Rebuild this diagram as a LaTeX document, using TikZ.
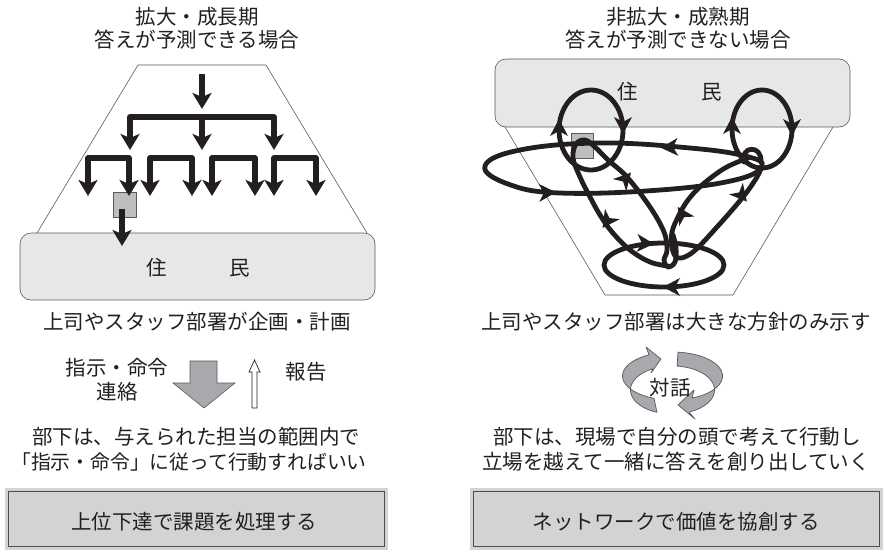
\documentclass[tikz,border=0pt]{standalone}
\usepackage{fontspec}
\newfontfamily\jpfont{Noto Sans CJK JP}
\usetikzlibrary{arrows.meta}
\definecolor{ink}{HTML}{231F20}
\definecolor{palegray}{HTML}{E6E7E8}
\definecolor{boxgray}{HTML}{D1D3D4}
\definecolor{sqgray}{HTML}{BCBEC0}
\definecolor{arrgray}{HTML}{A7A9AC}
\definecolor{edgegray}{HTML}{58595B}
\newcommand\loophead[3]{\fill[ink, shift={(#1,#2)}, rotate=#3] (6,0) -- (-11,-9) -- (-6,0) -- (-11,9) -- cycle;}
\begin{document}
\begin{tikzpicture}[x=1pt,y=-1pt,
  txt/.style={font=\jpfont\fontsize{20.5}{24}\selectfont, inner sep=0pt, text=ink},
  frame/.style={draw=edgegray, line width=0.6pt},
  flow/.style={draw=ink, line width=5.2pt, line join=round, -{Stealth[length=16pt,width=19pt,inset=4pt]}},
  twoway/.style={draw=ink, line width=5.2pt, line join=round, {Stealth[length=16pt,width=19pt,inset=4pt]}-{Stealth[length=16pt,width=19pt,inset=4pt]}},
  loopline/.style={draw=ink, line width=4.8pt, line cap=round, line join=round},
  ribbon/.style={fill=arrgray, draw=edgegray, line width=0.7pt, line join=round},
  resbox/.style={draw=edgegray, fill=palegray, line width=0.6pt, rounded corners=11pt, inner sep=0pt},
  sqbox/.style={draw=edgegray, fill=sqgray, line width=0.6pt, inner sep=0pt},
  resultbox/.style={draw=ink!80, double=boxgray, double distance=2.6pt, line width=0.7pt, fill=boxgray, inner sep=0pt}]
\useasboundingbox (0,0) rectangle (885,552);

% ---------------- left panel ----------------
\node[txt] (titleL1) at (197,17) {拡大・成長期};
\node[txt] (titleL2) at (197,40) {答えが予測できる場合};

\draw[frame] (37,233) -- (138,65) -- (266,65) -- (367,233);
\node[resbox, minimum width=355pt, minimum height=67pt] (resL) at (197.5,266.5) {};
\node[txt] (resLtxt) at (198.5,268) {住\hspace{62.5pt}民};

\node[sqbox, minimum width=23pt, minimum height=25pt] (sqL) at (124.5,204.5) {};

\draw[flow] (202,74) -- (202,109);
\draw[twoway] (130,150) -- (130,117) -- (274,117) -- (274,150);
\draw[flow] (202,117) -- (202,150);
\draw[twoway] (88,196) -- (88,158) -- (129,158) -- (129,196);
\draw[twoway] (150,196) -- (150,158) -- (192,158) -- (192,196);
\draw[twoway] (212,196) -- (212,158) -- (255,158) -- (255,196);
\draw[twoway] (274,196) -- (274,158) -- (316,158) -- (316,196);
\draw[flow] (122,209) -- (122,246);

\node[txt] (planL) at (197,322) {上司やスタッフ部署が企画・計画};
\node[txt] (orderA) at (117,368) {指示・命令};
\node[txt] (orderB) at (117,392) {連絡};
\node[txt] (report) at (306,372) {報告};
\path[fill=arrgray, draw=edgegray, line width=0.6pt] (190,361) -- (217,361) -- (217,383) -- (235,383) -- (204,408) -- (173,383) -- (190,383) -- cycle;
\path[fill=white, draw=ink, line width=0.7pt] (252,408) -- (252,372) -- (249,372) -- (254.5,360) -- (260,372) -- (257,372) -- (257,408) -- cycle;
\node[txt] (subL1) at (196,437) {部下は、与えられた担当の範囲内で};
\node[txt, font=\jpfont\fontsize{19.8}{24}\selectfont] (subL2) at (189,462) {「指示・命令」に従って行動すればいい};

\node[resultbox, minimum width=379.6pt, minimum height=58.6pt] (resultL) at (196.5,519) {};
\node[txt] (resultLtxt) at (194,522) {上位下達で課題を処理する};

% ---------------- right panel ----------------
\node[txt] (titleR1) at (678,17) {非拡大・成熟期};
\node[txt] (titleR2) at (678,40) {答えが予測できない場合};

\draw[frame] (505,127) -- (605,295) -- (733,295) -- (833,127);
\node[resbox, minimum width=355pt, minimum height=68pt] (resR) at (672.5,93) {};
\node[txt] (resRtxt) at (670,92) {住\hspace{63.5pt}民};

\node[sqbox, minimum width=22pt, minimum height=25pt] (sqR) at (582,145.5) {};

% loops
\draw[loopline] plot[smooth cycle, tension=0.7] coordinates {(485,166) (508,184) (560,193) (660,190) (735,180) (762,166) (745,156) (690,148) (600,143) (520,150)};
\draw[loopline] (591,130) ellipse [x radius=32pt, y radius=40pt];
\draw[loopline] (762,129) ellipse [x radius=30pt, y radius=39pt];
\draw[loopline] (664,265) ellipse [x radius=60pt, y radius=22pt];
% strand: up from the bottom knot to the square, curl, back down
\draw[loopline] plot[smooth, tension=0.6] coordinates {(668,266) (650,262) (630,250) (612,232) (600,215) (590,197) (580,177) (573,158) (576,144) (585,140) (595,147) (608,160) (627,177) (650,207) (664,232) (667,250) (664,260) (668,267) (675,262) (676,248) (673,235)};
% strand: down from the right knot, up again to it
\draw[loopline] plot[smooth, tension=0.6] coordinates {(748,158) (725,168) (702,185) (688,200) (679,215) (672,232) (672,248) (678,258) (693,252) (717,227) (743,197) (757,177) (762,166)};
\draw[loopline] (744,162) .. controls (740,146) and (762,144) .. (761,162);

\loophead{667}{147.5}{183}
\loophead{550}{192.5}{2}
\loophead{559}{125}{90}
\loophead{623}{128}{270}
\loophead{732}{123}{90}
\loophead{792}{130}{270}
\loophead{648}{243.5}{357}
\loophead{669}{287}{180}
\loophead{627}{177}{48}
\loophead{606}{223}{235}
\loophead{681}{212}{122}
\loophead{743}{197}{310}

\node[txt] (planR) at (676,322) {上司やスタッフ部署は大きな方針のみ示す};

% dialogue ribbons
\path[ribbon] plot[domain=111.7:242, samples=40] ({672.5+50*cos(\x)}, {383+24*sin(\x)-7}) -- (646,347) -- (661,359) -- (651,373) -- plot[domain=242:111.7, samples=40] ({672.5+42*cos(\x)}, {383+24*sin(\x)+7}) -- cycle;
\path[ribbon] plot[domain=-83.7:67, samples=40] ({672.5+50*cos(\x)}, {383+24*sin(\x)-7}) -- (694,390) -- (678,405) -- (695,419) -- plot[domain=67:-83.7, samples=40] ({672.5+42*cos(\x)}, {383+24*sin(\x)+7}) -- cycle;
\node[txt] (dialog) at (670,388) {対話};

\node[txt] (subR1) at (677,437) {部下は、現場で自分の頭で考えて行動し};
\node[txt] (subR2) at (676,462) {立場を越えて一緒に答えを創り出していく};

\node[resultbox, minimum width=409.6pt, minimum height=58.6pt] (resultR) at (676.5,519) {};
\node[txt] (resultRtxt) at (676,522) {ネットワークで価値を協創する};
\end{tikzpicture}
\end{document}
